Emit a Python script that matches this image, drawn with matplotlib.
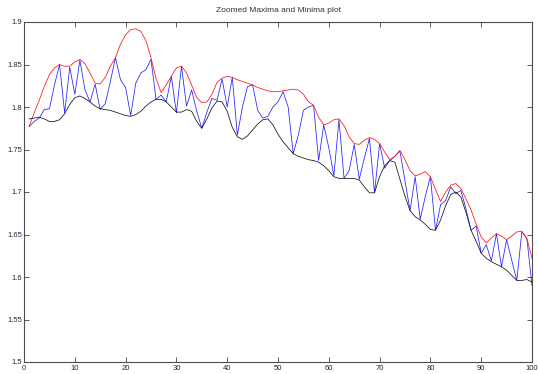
import numpy as np
import matplotlib
matplotlib.use("Agg")
import matplotlib.pyplot as plt

# sample index
x = np.arange(1, 101)

# signal (blue)
signal = [1.777, 1.783, 1.787, 1.797, 1.798, 1.826, 1.850, 1.793, 1.847, 1.815,
          1.855, 1.820, 1.806, 1.827, 1.797, 1.804, 1.830, 1.858, 1.832, 1.823,
          1.790, 1.828, 1.840, 1.844, 1.856, 1.809, 1.814, 1.806, 1.836, 1.793,
          1.848, 1.801, 1.820, 1.795, 1.775, 1.794, 1.810, 1.808, 1.833, 1.800,
          1.835, 1.767, 1.800, 1.824, 1.826, 1.796, 1.787, 1.789, 1.800, 1.806,
          1.818, 1.800, 1.745, 1.767, 1.796, 1.800, 1.802, 1.737, 1.779, 1.752,
          1.719, 1.785, 1.716, 1.725, 1.756, 1.715, 1.740, 1.763, 1.699, 1.757,
          1.728, 1.737, 1.742, 1.748, 1.713, 1.678, 1.718, 1.668, 1.695, 1.718,
          1.655, 1.685, 1.690, 1.706, 1.698, 1.702, 1.680, 1.655, 1.660, 1.628,
          1.638, 1.619, 1.651, 1.612, 1.644, 1.620, 1.596, 1.653, 1.645, 1.590]

# upper envelope through maxima (red)
upper = [1.777, 1.793, 1.808, 1.824, 1.838, 1.846, 1.850, 1.848, 1.848, 1.853,
         1.856, 1.851, 1.840, 1.828, 1.827, 1.835, 1.848, 1.858, 1.874, 1.885,
         1.891, 1.892, 1.889, 1.878, 1.858, 1.833, 1.817, 1.826, 1.836, 1.846,
         1.848, 1.840, 1.826, 1.811, 1.805, 1.806, 1.815, 1.829, 1.834, 1.836,
         1.835, 1.832, 1.830, 1.828, 1.826, 1.823, 1.821, 1.819, 1.818, 1.818,
         1.819, 1.820, 1.821, 1.820, 1.815, 1.806, 1.802, 1.788, 1.779, 1.781,
         1.785, 1.786, 1.778, 1.765, 1.757, 1.756, 1.761, 1.764, 1.762, 1.757,
         1.747, 1.738, 1.742, 1.749, 1.738, 1.725, 1.719, 1.721, 1.724, 1.718,
         1.703, 1.689, 1.700, 1.708, 1.710, 1.704, 1.692, 1.679, 1.662, 1.647,
         1.640, 1.646, 1.651, 1.648, 1.644, 1.648, 1.653, 1.654, 1.645, 1.622]

# lower envelope through minima (black)
lower = [1.786, 1.787, 1.788, 1.786, 1.783, 1.783, 1.785, 1.792, 1.803, 1.811,
         1.813, 1.810, 1.806, 1.801, 1.798, 1.797, 1.796, 1.794, 1.792, 1.790,
         1.789, 1.791, 1.795, 1.801, 1.806, 1.809, 1.809, 1.806, 1.800, 1.794,
         1.794, 1.797, 1.795, 1.783, 1.775, 1.786, 1.799, 1.807, 1.806, 1.795,
         1.776, 1.765, 1.762, 1.766, 1.773, 1.780, 1.785, 1.786, 1.779, 1.768,
         1.759, 1.752, 1.745, 1.742, 1.740, 1.738, 1.737, 1.735, 1.731, 1.725,
         1.718, 1.716, 1.716, 1.716, 1.716, 1.714, 1.706, 1.699, 1.699, 1.718,
         1.731, 1.737, 1.735, 1.715, 1.695, 1.678, 1.671, 1.667, 1.662, 1.656,
         1.655, 1.667, 1.684, 1.697, 1.700, 1.694, 1.676, 1.655, 1.642, 1.628,
         1.622, 1.618, 1.615, 1.612, 1.608, 1.602, 1.596, 1.596, 1.597, 1.594]

xticks = np.arange(0, 101, 10)
yticks = [1.5, 1.55, 1.6, 1.65, 1.7, 1.75, 1.8, 1.85, 1.9]
ytick_labels = ["1.5", "1.55", "1.6", "1.65", "1.7", "1.75", "1.8", "1.85", "1.9"]

plt.rcParams['font.family'] = ['Liberation Sans', 'DejaVu Sans']

fig = plt.figure(figsize=(5.38, 3.74), dpi=100)
ax = fig.add_axes([24 / 538, 12 / 374, 508 / 538, 340 / 374])

ax.plot(x, signal, color='#2020ff', lw=0.55)
ax.plot(x, upper, color='#ff1010', lw=0.55)
ax.plot(x, lower, color='#111111', lw=0.55)

ax.set_xlim(0, 100)
ax.set_ylim(1.5, 1.9)
ax.set_xticks(xticks)
ax.set_yticks(yticks)
ax.set_yticklabels(ytick_labels)
ax.tick_params(direction='in', length=3.3, width=0.6, labelsize=5.5, colors='0.25',
               top=True, right=True, pad=1.5)
ax.tick_params(axis='x', pad=2)
for lbl in ax.get_xticklabels() + ax.get_yticklabels():
    lbl.set_color('#222244')
for s in ax.spines.values():
    s.set_color('0.3')
    s.set_linewidth(0.8)

ax.set_title("Zoomed Maxima and Minima plot", fontsize=6, color='0.2', pad=7)

fig.savefig("out.png", dpi=100)
